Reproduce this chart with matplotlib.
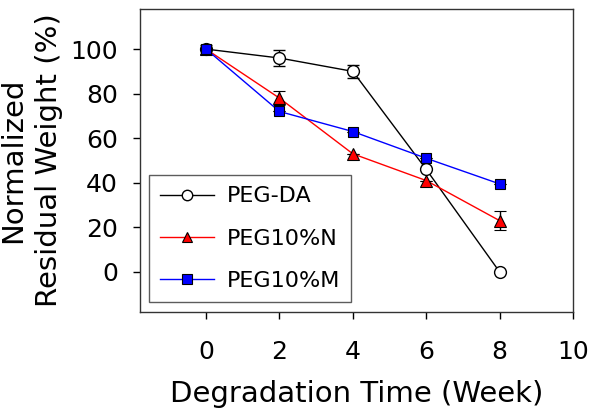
import matplotlib
matplotlib.use('Agg')
import matplotlib.pyplot as plt
from matplotlib.lines import Line2D

weeks = [0, 2, 4, 6, 8]

peg_da = [100, 96, 90, 46, 0]
peg_da_err = [2, 3.6, 3, 0, 0]
peg_n = [100, 78, 53, 41, 23]
peg_n_err = [0, 3, 0, 0, 4.3]
peg_m = [100, 72, 63, 51, 39.5]
peg_m_err = [0, 0, 0, 0, 0]

xticks = [0, 2, 4, 6, 8, 10]
yticks = [0, 20, 40, 60, 80, 100]

plt.rcParams['font.family'] = 'DejaVu Sans'

fig = plt.figure(figsize=(6.0, 4.19), dpi=100)
ax = fig.add_axes([140/600, 1-312/419, 433/600, 303/419])

ax.errorbar(weeks, peg_da, yerr=peg_da_err, color='black', lw=1, marker='o',
            ms=8.5, mfc='white', mec='black', mew=1, capsize=4, elinewidth=1,
            zorder=3)
ax.errorbar(weeks, peg_n, yerr=peg_n_err, color='red', lw=1, marker='^',
            ms=8.5, mfc='red', mec='black', mew=0.8, ecolor='black', capsize=4,
            elinewidth=1, zorder=4)
ax.errorbar(weeks, peg_m, yerr=peg_m_err, color='blue', lw=1, marker='s',
            ms=7, mfc='blue', mec='black', mew=0.8, ecolor='black', capsize=4,
            elinewidth=1, zorder=5)

ax.set_xlim(-1.8, 10)
ax.set_ylim(-18, 118)
ax.set_xticks(xticks)
ax.set_yticks(yticks)
ax.tick_params(direction='out', length=5, width=1, labelsize=18)
ax.tick_params(axis='x', pad=15)
ax.tick_params(axis='y', pad=11)
for s in ax.spines.values():
    s.set_linewidth(1)
    s.set_color('#333333')

ax.set_xlabel('Degradation Time (Week)', fontsize=21, labelpad=12)
ax.set_ylabel('Normalized\nResidual Weight (%)', fontsize=21, labelpad=5,
              linespacing=1.35)

handles = [
    Line2D([], [], color='black', lw=1, marker='o', ms=7.5, mfc='white', mec='black'),
    Line2D([], [], color='red', lw=1, marker='^', ms=7.5, mfc='red', mec='black', mew=0.8),
    Line2D([], [], color='blue', lw=1, marker='s', ms=6.5, mfc='blue', mec='black', mew=0.8),
]
leg = ax.legend(handles, ['PEG-DA', 'PEG10%N', 'PEG10%M'], loc='lower left',
                fontsize=16, frameon=True, fancybox=False, edgecolor='#333333',
                borderpad=0.5, labelspacing=1.0, handlelength=2.4,
                handletextpad=0.6, borderaxespad=0,
                bbox_to_anchor=(0.021, 0.033))
leg.get_frame().set_linewidth(1)

fig.savefig('out.png', dpi=100)
